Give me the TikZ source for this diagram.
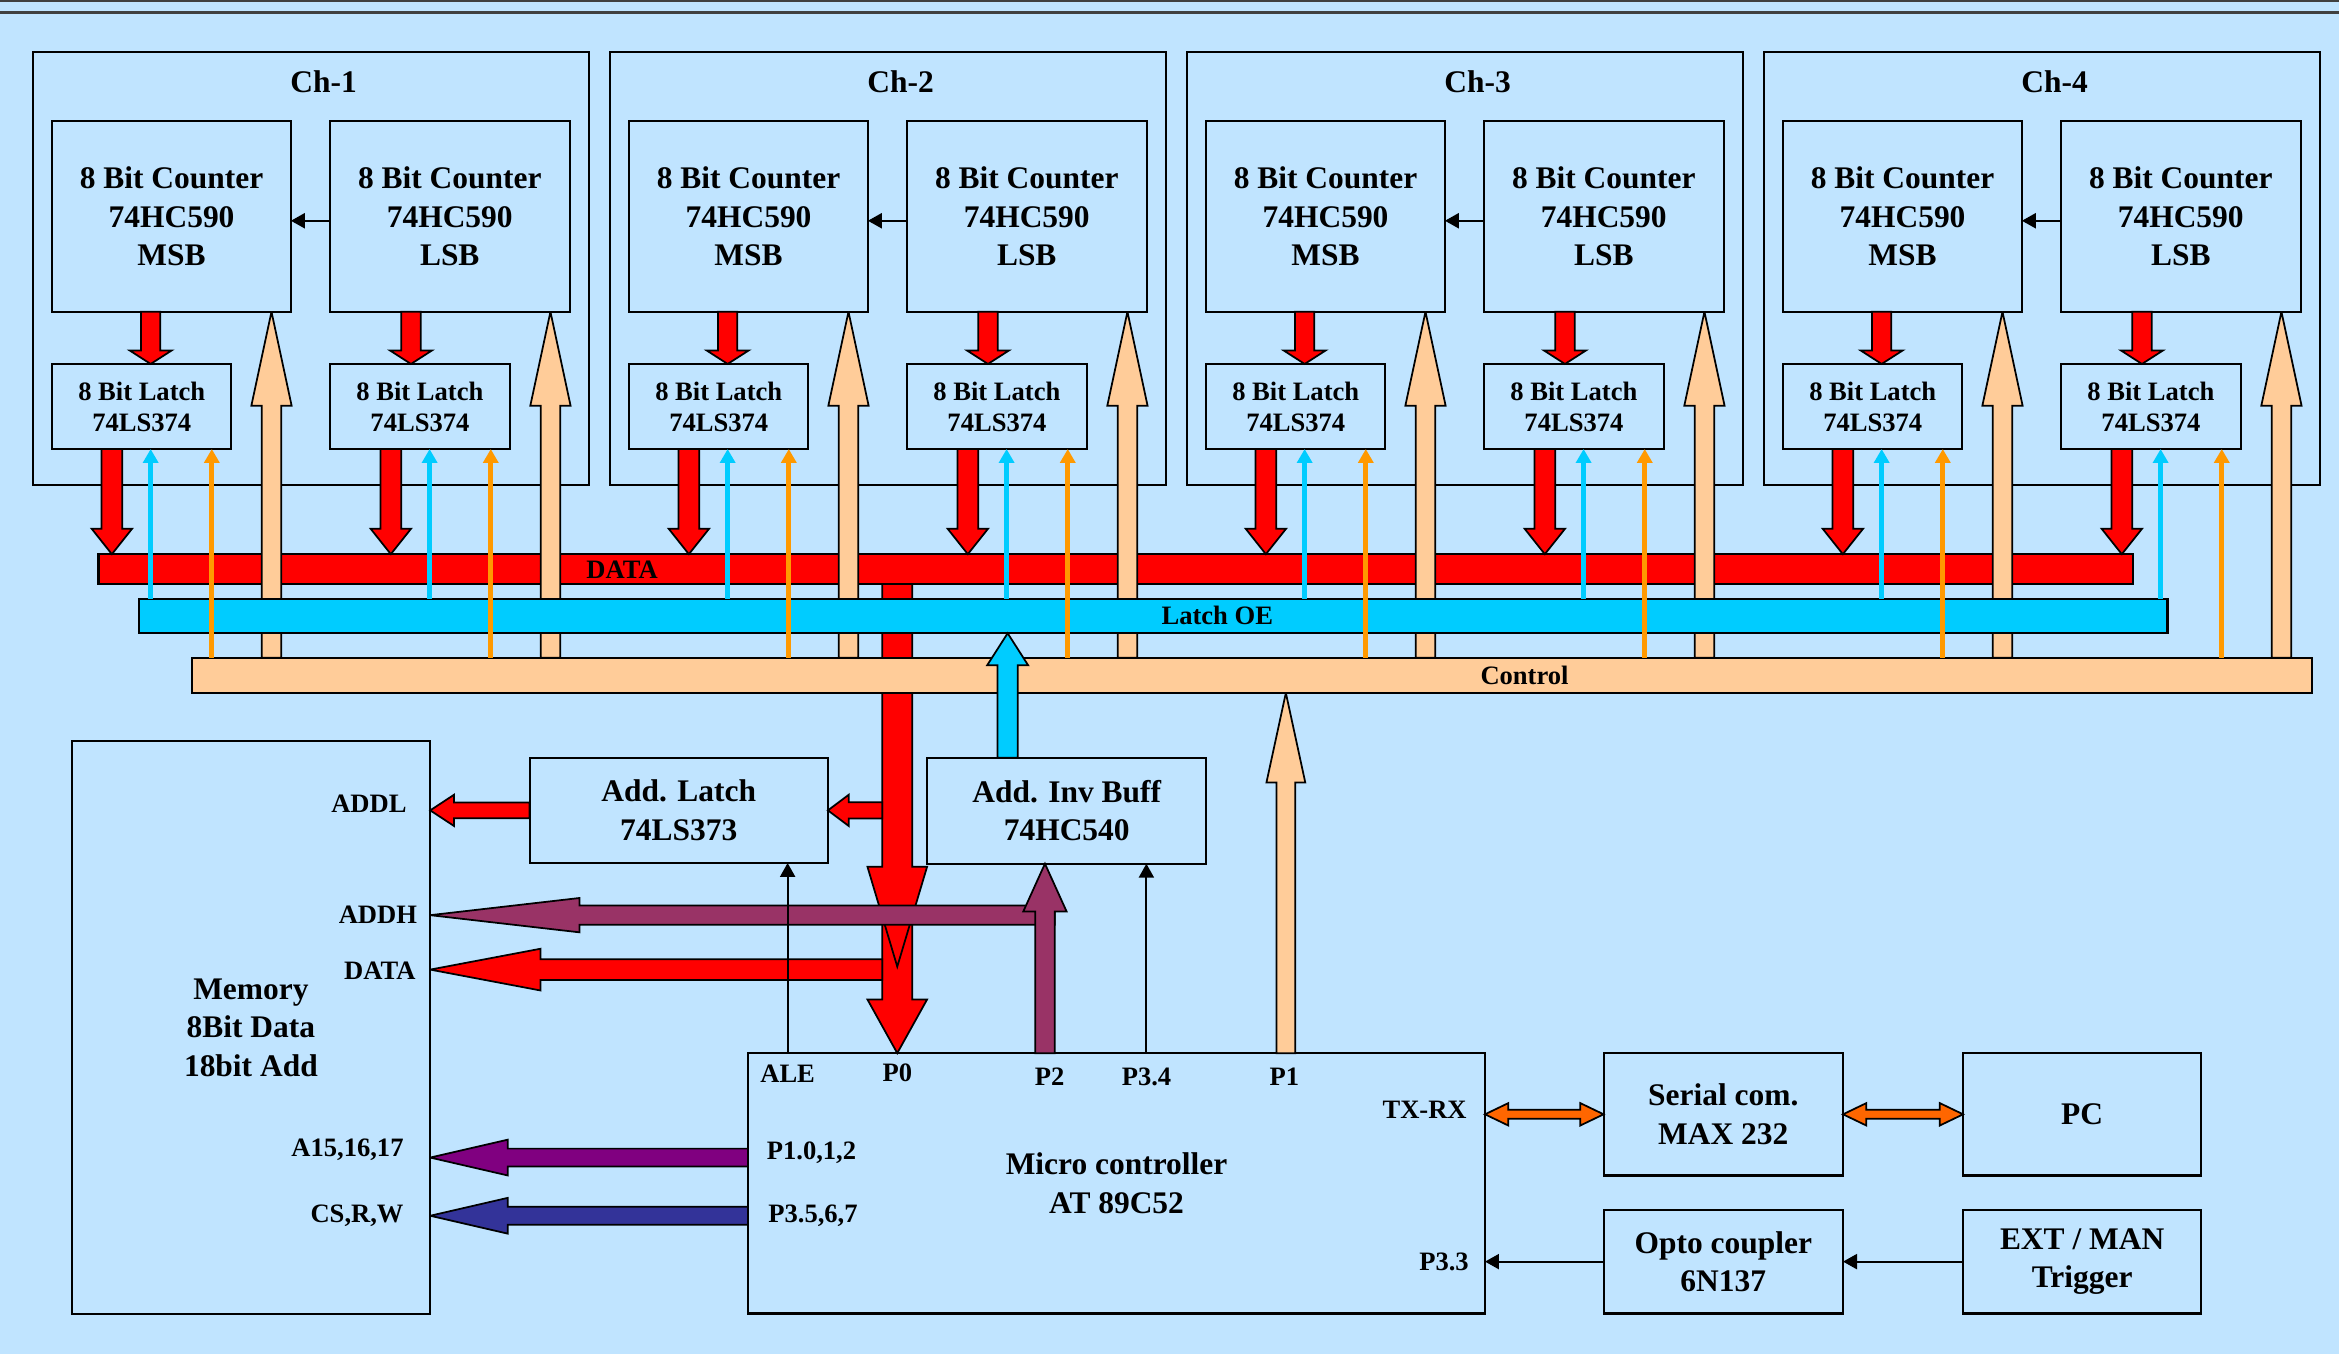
\documentclass[tikz,border=0pt]{standalone}
\usepackage{fontspec}
\setmainfont{Liberation Serif}
\usepackage{xcolor}
\usepackage{tikz}
\usetikzlibrary{calc,arrows.meta}
\definecolor{bgblue}{RGB}{192,228,255}
\definecolor{peach}{RGB}{255,204,153}
\definecolor{oecyan}{RGB}{0,204,255}
\definecolor{ctlorange}{RGB}{255,153,0}
\definecolor{addhpurple}{RGB}{153,51,102}
\definecolor{apurple}{RGB}{128,0,128}
\definecolor{csblue}{RGB}{51,51,153}
\definecolor{serorange}{RGB}{255,102,0}
\newcommand{\pxu}{0.015cm}
% 粗箭头: 颜色, 起点, 终点, 半杆宽, 半头宽, 头长
\newcommand{\fatarrow}[6]{%
  \coordinate (fa-s) at (#2);
  \coordinate (fa-e) at (#3);
  \coordinate (fa-h) at ($(fa-e)!#6*\pxu!(fa-s)$);
  \draw[fat, fill=#1]
    ($(fa-s)!#4*\pxu!90:(fa-e)$) -- ($(fa-h)!#4*\pxu!90:(fa-e)$) --
    ($(fa-h)!#5*\pxu!90:(fa-e)$) -- (fa-e) --
    ($(fa-h)!#5*\pxu!-90:(fa-e)$) -- ($(fa-h)!#4*\pxu!-90:(fa-e)$) --
    ($(fa-s)!#4*\pxu!-90:(fa-e)$) -- cycle;}
% 双向粗箭头
\newcommand{\fatdarrow}[6]{%
  \coordinate (fd-s) at (#2);
  \coordinate (fd-e) at (#3);
  \coordinate (fd-a) at ($(fd-s)!#6*\pxu!(fd-e)$);
  \coordinate (fd-b) at ($(fd-e)!#6*\pxu!(fd-s)$);
  \draw[fat, fill=#1] (fd-s) --
    ($(fd-a)!#5*\pxu!90:(fd-e)$) -- ($(fd-a)!#4*\pxu!90:(fd-e)$) --
    ($(fd-b)!#4*\pxu!90:(fd-e)$) -- ($(fd-b)!#5*\pxu!90:(fd-e)$) -- (fd-e) --
    ($(fd-b)!#5*\pxu!-90:(fd-e)$) -- ($(fd-b)!#4*\pxu!-90:(fd-e)$) --
    ($(fd-a)!#4*\pxu!-90:(fd-e)$) -- ($(fd-a)!#5*\pxu!-90:(fd-e)$) -- cycle;}

\begin{document}
\begin{tikzpicture}[x=\pxu, y=-\pxu,
    >={Triangle[length=4pt,width=4.3pt]},
    every node/.style={font=\bfseries\fontsize{9}{11}\selectfont},
    blk/.style={draw, line width=0.6pt, inner sep=0pt, outer sep=0pt,
                align=center, anchor=north west},
    ltc/.style={blk, font=\bfseries\fontsize{7.6}{8.9}\selectfont},
    bus/.style={draw, line width=0.6pt, inner sep=0pt, outer sep=0pt, anchor=north west},
    pin/.style={inner sep=0pt, font=\bfseries\fontsize{7.6}{9}\selectfont},
    fat/.style={draw=black, line width=0.5pt, line join=miter, miter limit=4},
    sig/.style={->, line width=0.6pt},
    tap/.style={->, line width=1.4pt},
  ]
  \useasboundingbox (0,0) rectangle (1568,908);
  \fill[bgblue] (0,0) rectangle (1568,908);
  \draw[line width=0.8pt, black!75] (0,0.7) -- (1568,0.7) (0,8.5) -- (1568,8.5);

  % 数据总线
  \node[bus, fill=red, minimum width=1364*\pxu, minimum height=20*\pxu] (dbus) at (66,371.5) {};
  \node[pin] (dbusl) at (417,382) {DATA};

  % 通道
  \foreach \k in {1,...,4} {
    \pgfmathsetmacro{\xo}{22+(\k-1)*386.8}
    \node[blk, minimum width=373*\pxu, minimum height=290*\pxu] (ch\k) at (\xo,35) {};
    \node (chl\k) at (\xo+195,55) {Ch-\k};
    \node[blk, minimum width=160*\pxu, minimum height=128*\pxu] (msb\k) at (\xo+13,81) {8 Bit Counter\\74HC590\\MSB};
    \node[blk, minimum width=161*\pxu, minimum height=128*\pxu] (lsb\k) at (\xo+199,81) {8 Bit Counter\\74HC590\\LSB};
    \node[ltc, minimum width=120*\pxu, minimum height=57*\pxu] (lm\k) at (\xo+13,244) {8 Bit Latch\\74LS374};
    \node[ltc, minimum width=121*\pxu, minimum height=57*\pxu] (ll\k) at (\xo+199,244) {8 Bit Latch\\74LS374};
    \coordinate (cy\k) at ($(lsb\k.west)+(0,3)$);
    \draw[sig] (cy\k) -- (cy\k -| msb\k.east);
    \coordinate (rm\k) at ($(msb\k.south)+(-14,0)$);
    \coordinate (rl\k) at ($(lsb\k.south)+(-26,0)$);
    \fatarrow{red}{rm\k}{rm\k |- lm\k.north}{6.5}{14}{9}
    \fatarrow{red}{rl\k}{rl\k |- ll\k.north}{6.5}{14}{9}
    \coordinate (dm\k) at ($(lm\k.south)+(-20,0)$);
    \coordinate (dl\k) at ($(ll\k.south)+(-19.5,0)$);
    \fatarrow{red}{dm\k}{dm\k |- dbus.north}{7}{13.5}{17}
    \fatarrow{red}{dl\k}{dl\k |- dbus.north}{7}{13.5}{17}
  }

  % 下部模块
  \node[blk, minimum width=240.4*\pxu, minimum height=384.4*\pxu] (mem) at (48,496.6) {Memory\\8Bit Data\\18bit Add};
  \node[blk, minimum width=200*\pxu, minimum height=70.5*\pxu] (alatch) at (355,508) {Add. Latch\\74LS373};
  \node[blk, minimum width=186.8*\pxu, minimum height=71*\pxu] (ibuf) at (621.7,508) {Add. Inv Buff\\74HC540};
  \node[blk, minimum width=494*\pxu, minimum height=174.5*\pxu] (mcu) at (501.5,706) {Micro controller\\AT 89C52};
  \node[blk, minimum width=160.5*\pxu, minimum height=82*\pxu] (ser) at (1075,706) {Serial com.\\MAX 232};
  \node[blk, minimum width=159.6*\pxu, minimum height=82*\pxu] (pc) at (1316,706) {PC};
  \node[blk, minimum width=160.5*\pxu, minimum height=69.5*\pxu] (opto) at (1075,811) {Opto coupler\\6N137};
  \node[blk, minimum width=159.6*\pxu, minimum height=69.5*\pxu] (ext) at (1316,811) {EXT / MAN\\Trigger};

  % 引脚
  \node[pin, anchor=east] (maddl) at (273,538.5) {ADDL};
  \node[pin, anchor=east] (maddh) at (280,613) {ADDH};
  \node[pin, anchor=east] (mdata) at (279,651) {DATA};
  \node[pin, anchor=east] (ma15) at (271,771) {A15,16,17};
  \node[pin, anchor=east] (mcs) at (271,815) {CS,R,W};
  \node[pin] (pale) at (528,719.5) {ALE};
  \node[pin] (pp0) at (601.5,719.5) {P0};
  \node[pin] (pp2) at (703.6,722) {P2};
  \node[pin] (pp34) at (768.6,722) {P3.4};
  \node[pin] (pp1) at (861,722) {P1};
  \node[pin] (pp10) at (544,773) {P1.0,1,2};
  \node[pin] (pp35) at (545,815) {P3.5,6,7};
  \node[pin] (ptx) at (955,744) {TX-RX};
  \node[pin] (pp33) at (968,846) {P3.3};

  % P0 数据
  \coordinate (p0) at ($(mcu.north west)+(100,0)$);
  \coordinate (p0m) at ($(p0)+(0,-106)$);
  \coordinate (p0v) at ($(p0)+(0,-58)$);
  \fatarrow{red}{p0m}{p0}{10}{20}{36}
  \fatarrow{red}{dbus.south -| p0}{p0v}{10}{20}{67}

  % 控制总线
  \node[bus, fill=peach, minimum width=1421.5*\pxu, minimum height=23.5*\pxu] (cbus) at (128.5,441) {};
  \node[pin] (cbusl) at (1022,452.5) {Control};
  \foreach \k in {1,...,4} {
    \coordinate (pm\k) at ($(msb\k.south)+(67,0)$);
    \coordinate (pl\k) at ($(lsb\k.south)+(67.5,0)$);
    \fatarrow{peach}{cbus.north -| pm\k}{pm\k}{6.5}{13.5}{63}
    \fatarrow{peach}{cbus.north -| pl\k}{pl\k}{6.5}{13.5}{63}
  }

  % 锁存 OE 总线
  \node[bus, fill=oecyan, minimum width=1360*\pxu, minimum height=23*\pxu] (obus) at (93,401.5) {};
  \node[pin] (obusl) at (816,412.5) {Latch OE};

  \coordinate (p1) at ($(mcu.north west)+(360.5,0)$);
  \fatarrow{peach}{p1}{p1 |- cbus.south}{6.25}{13}{60}
  \coordinate (oeb) at ($(ibuf.north west)+(53.8,0)$);
  \fatarrow{oecyan}{oeb}{oeb |- obus.south}{6.75}{13.75}{21.5}

  % 地址与数据
  \coordinate (colw) at ($(p0)+(-10,0)$);
  \fatarrow{red}{alatch.east -| colw}{alatch.east}{5.5}{10.5}{14}
  \fatarrow{red}{alatch.west}{alatch.west -| mem.east}{5.25}{10.5}{16}
  \coordinate (dmx) at ($(colw)+(0,-56)$);
  \fatarrow{red}{dmx}{dmx -| mem.east}{7}{14}{74}
  \coordinate (p2) at ($(mcu.north west)+(199,0)$);
  \coordinate (ah) at ($(p2)+(6.5,-92.5)$);
  \fatarrow{addhpurple}{ah}{ah -| mem.east}{6.5}{11.5}{100}
  \fatarrow{addhpurple}{p2}{p2 |- ibuf.south}{6.5}{14.5}{32}
  \coordinate (a15) at ($(mcu.north west)+(0,70)$);
  \fatarrow{apurple}{a15}{a15 -| mem.east}{6}{12}{52}
  \coordinate (csw) at ($(mcu.north west)+(0,109)$);
  \fatarrow{csblue}{csw}{csw -| mem.east}{6}{12}{52}

  % 串口
  \fatdarrow{serorange}{mcu.east |- ser.west}{ser.west}{3}{7.5}{15.6}
  \fatdarrow{serorange}{ser.east}{pc.west}{3}{7.5}{15.6}

  % 细线
  \foreach \k in {1,...,4} {
    \coordinate (cm\k) at ($(lm\k.south)+(6,0)$);
    \coordinate (cl\k) at ($(ll\k.south)+(6.5,0)$);
    \coordinate (om\k) at ($(lm\k.south)+(47,0)$);
    \coordinate (ol\k) at ($(ll\k.south)+(47.5,0)$);
    \draw[tap, oecyan] (obus.north -| cm\k) -- (cm\k);
    \draw[tap, oecyan] (obus.north -| cl\k) -- (cl\k);
    \draw[tap, ctlorange] (cbus.north -| om\k) -- (om\k);
    \draw[tap, ctlorange] (cbus.north -| ol\k) -- (ol\k);
  }
  \coordinate (ale) at ($(mcu.north west)+(26.5,0)$);
  \draw[sig] (ale) -- (ale |- alatch.south);
  \coordinate (p34) at ($(mcu.north west)+(267,0)$);
  \draw[sig] (p34) -- (p34 |- ibuf.south);
  \draw[sig] (opto.west) -- (opto.west -| mcu.east);
  \draw[sig] (ext.west) -- (opto.east);
\end{tikzpicture}
\end{document}
